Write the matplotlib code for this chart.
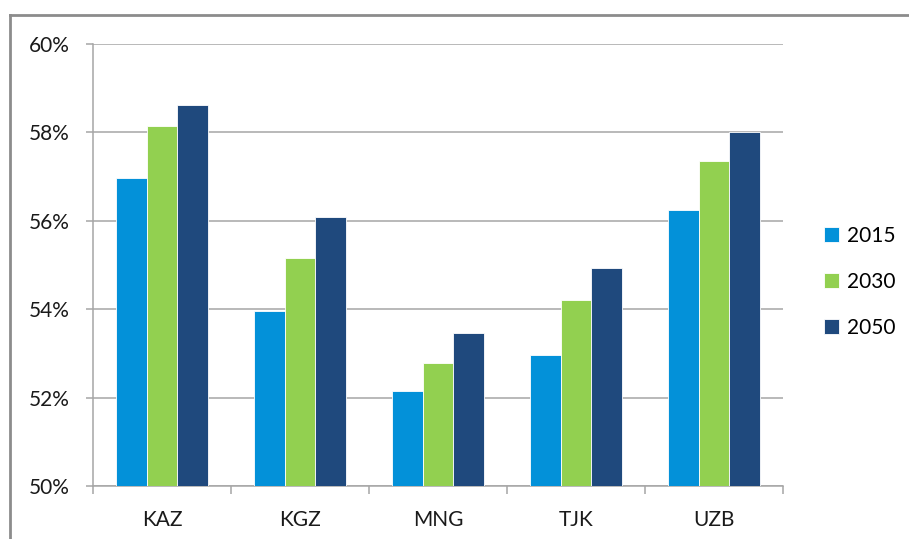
import numpy as np
import matplotlib.pyplot as plt
from matplotlib.lines import Line2D
from matplotlib.ticker import FuncFormatter, FixedLocator

countries = ["KAZ", "KGZ", "MNG", "TJK", "UZB"]
years = ["2015", "2030", "2050"]
v2015 = [56.97, 53.96, 52.15, 52.96, 56.24]
v2030 = [58.14, 55.16, 52.78, 54.21, 57.35]
v2050 = [58.62, 56.09, 53.46, 54.93, 58.01]
colors = ["#0391D9", "#92D050", "#1F497D"]

plt.rcParams['font.family'] = ['Lato', 'DejaVu Sans']

fig = plt.figure(figsize=(9.09, 5.39), dpi=100)
ax = fig.add_axes([0.1023, 0.0983, 0.759, 0.8201])

x = np.arange(len(countries))
w = 0.222
for i, (vals, c, lab) in enumerate(zip([v2015, v2030, v2050], colors, years)):
    ax.bar(x + (i - 1) * w, vals, width=w, color=c, label=lab,
           edgecolor="white", linewidth=0.6, zorder=3)

ax.set_xlim(-0.5, len(countries) - 0.5)
ax.set_ylim(50, 60)
ax.set_yticks(np.arange(50, 61, 2))
ax.yaxis.set_major_formatter(FuncFormatter(lambda v, p: f"{v:.0f}%"))
ax.set_xticks(x)
ax.set_xticklabels(countries)
ax.xaxis.set_minor_locator(FixedLocator(np.arange(-0.5, len(countries), 1)))

ax.grid(axis="y", color="#A6A6A6", linewidth=1.1, zorder=0)
for s in ["top", "right"]:
    ax.spines[s].set_visible(False)
for s in ["left", "bottom"]:
    ax.spines[s].set_color("#A6A6A6")
    ax.spines[s].set_linewidth(1.1)

ax.tick_params(axis="y", length=5, width=1.1, color="#A6A6A6", pad=12,
               labelsize=15, labelcolor="#1a1a1a")
ax.tick_params(axis="x", which="major", length=0, pad=17,
               labelsize=15, labelcolor="#1a1a1a")
ax.tick_params(axis="x", which="minor", length=6, width=1.1, color="#A6A6A6")

ax.legend(loc="center left", bbox_to_anchor=(0.886, 0.477),
          bbox_transform=fig.transFigure, frameon=False, fontsize=15,
          handlelength=0.7, handleheight=0.7, handletextpad=0.4,
          labelspacing=1.25)

# partial outer frame
fig.add_artist(Line2D([0.011, 1.0], [0.972, 0.972], transform=fig.transFigure,
                      color="#8C8C8C", linewidth=2))
fig.add_artist(Line2D([0.011, 0.011], [0.0, 0.972], transform=fig.transFigure,
                      color="#8C8C8C", linewidth=2))

fig.savefig("out.png", dpi=100)
